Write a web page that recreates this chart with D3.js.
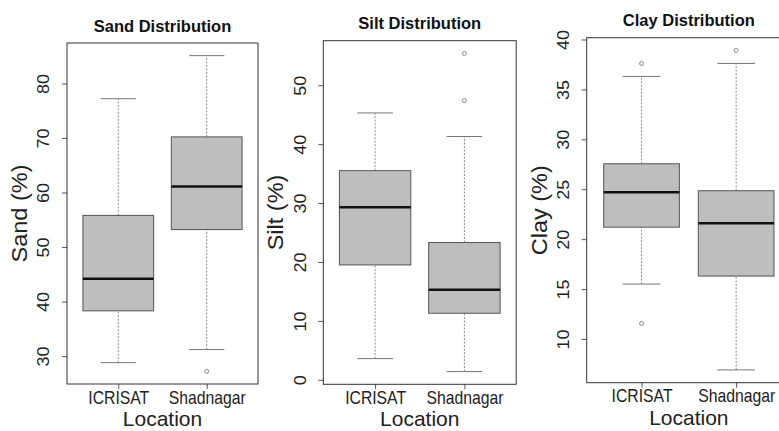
<!DOCTYPE html>
<html>
<head>
<script src="https://d3js.org/d3.v7.min.js"></script>
<style>
  body { margin: 0; background: #fff; }
  text { font-family: "Liberation Sans", Arial, sans-serif; }
</style>
</head>
<body>
<script>
	var width = 779;
	var height = 431;

	// Groups on the x axis
	var categories = ["ICRISAT", "Shadnagar"];

	// five-number summaries: [lower whisker, Q1, median, Q3, upper whisker]
	var sandStats = [[28.8, 38.3, 44.2, 55.8, 77.2], [31.2, 53.2, 61.1, 70.2, 85.1]];
	var sandOutliers = [[], [27.2]];
	var sandTicks = [30, 40, 50, 60, 70, 80];

	var siltStats = [[3.6, 19.5, 29.3, 35.5, 45.3], [1.4, 11.3, 15.3, 23.3, 41.3]];
	var siltOutliers = [[], [47.4, 55.4]];
	var siltTicks = [0, 10, 20, 30, 40, 50];

	var clayStats = [[15.5, 21.2, 24.7, 27.55, 36.3], [6.9, 16.3, 21.6, 24.85, 37.6]];
	var clayOutliers = [[11.55, 37.6], [38.9]];
	var clayTicks = [10, 15, 20, 25, 30, 35, 40];

	var panels = [
		{title: "Sand Distribution", ylab: "Sand (%)", stats: sandStats, outliers: sandOutliers, ticks: sandTicks,
		 left: 67, right: 258, top: 43, bottom: 384},
		{title: "Silt Distribution", ylab: "Silt (%)", stats: siltStats, outliers: siltOutliers, ticks: siltTicks,
		 left: 323.3, right: 516.2, top: 40.7, bottom: 384.3},
		{title: "Clay Distribution", ylab: "Clay (%)", stats: clayStats, outliers: clayOutliers, ticks: clayTicks,
		 left: 586.7, right: 791, top: 37.7, bottom: 382.7}
	];

	// the reference text is a little condensed sideways
	var squeeze = "scale(0.9,1)";

	var svg = d3.select("body")
		.append("svg")
		.attr("width", width)
		.attr("height", height)
		.style("background", "#fff");

	panels.forEach(function(p) {
		// R style limits: data range plus 4% each side
		var all = p.stats.flat().concat(p.outliers.flat());
		var lo = d3.min(all), hi = d3.max(all), pad = (hi - lo) * 0.04;

		var y = d3.scaleLinear().domain([lo - pad, hi + pad]).range([p.bottom, p.top]);
		var x = d3.scaleLinear().domain([0.42, 2.58]).range([p.left, p.right]);
		var boxW = x(1.4) - x(1);   // half of the 0.8 box width
		var capW = boxW / 2;

		var g = svg.append("g");

		var box = g.selectAll(".box")
			.data(p.stats)
			.join("g")
			.attr("class", "box");

		// whiskers
		box.append("line")
			.attr("x1", (d, i) => x(i + 1)).attr("x2", (d, i) => x(i + 1))
			.attr("y1", d => y(d[0])).attr("y2", d => y(d[1]))
			.attr("stroke", "#8a8a8a").attr("stroke-dasharray", "2,1.5");
		box.append("line")
			.attr("x1", (d, i) => x(i + 1)).attr("x2", (d, i) => x(i + 1))
			.attr("y1", d => y(d[3])).attr("y2", d => y(d[4]))
			.attr("stroke", "#8a8a8a").attr("stroke-dasharray", "2,1.5");

		// caps
		box.append("line")
			.attr("x1", (d, i) => x(i + 1) - capW).attr("x2", (d, i) => x(i + 1) + capW)
			.attr("y1", d => y(d[0])).attr("y2", d => y(d[0]))
			.attr("stroke", "#777");
		box.append("line")
			.attr("x1", (d, i) => x(i + 1) - capW).attr("x2", (d, i) => x(i + 1) + capW)
			.attr("y1", d => y(d[4])).attr("y2", d => y(d[4]))
			.attr("stroke", "#777");

		// box
		box.append("rect")
			.attr("x", (d, i) => x(i + 1) - boxW)
			.attr("y", d => y(d[3]))
			.attr("width", boxW * 2)
			.attr("height", d => y(d[1]) - y(d[3]))
			.attr("fill", "#bebebe")
			.attr("stroke", "#555");

		// median
		box.append("line")
			.attr("x1", (d, i) => x(i + 1) - boxW).attr("x2", (d, i) => x(i + 1) + boxW)
			.attr("y1", d => y(d[2])).attr("y2", d => y(d[2]))
			.attr("stroke", "#111").attr("stroke-width", 2.5);

		// outliers
		p.outliers.forEach(function(list, i) {
			g.selectAll(null)
				.data(list)
				.join("circle")
				.attr("cx", x(i + 1))
				.attr("cy", d => y(d))
				.attr("r", 2)
				.attr("fill", "none")
				.attr("stroke", "#888");
		});

		// y axis
		var yAxis = g.append("g")
			.attr("transform", "translate(" + p.left + ",0)")
			.call(d3.axisLeft(y).tickValues(p.ticks).tickSize(5));
		yAxis.select(".domain").remove();
		yAxis.selectAll("line").attr("stroke", "#555");
		yAxis.selectAll("text")
			.attr("x", null).attr("dy", null)
			.attr("text-anchor", "middle")
			.attr("transform", "translate(-17.7,0) " + squeeze + " rotate(-90)")
			.style("font-size", "18px")
			.style("font-family", "Liberation Sans, Arial, sans-serif")
			.attr("fill", "#222");

		// x axis
		var xAxis = g.append("g")
			.attr("transform", "translate(0," + p.bottom + ")")
			.call(d3.axisBottom(x).tickValues([1, 2]).tickFormat(i => categories[i - 1]).tickSize(5));
		xAxis.select(".domain").remove();
		xAxis.selectAll("line").attr("stroke", "#555");
		xAxis.selectAll("text")
			.attr("y", null).attr("dy", null)
			.attr("transform", "translate(0,19.5) " + squeeze)
			.style("font-size", "17.5px")
			.style("font-family", "Liberation Sans, Arial, sans-serif")
			.attr("fill", "#222");

		// plot frame
		g.append("rect")
			.attr("x", p.left).attr("y", p.top)
			.attr("width", p.right - p.left).attr("height", p.bottom - p.top)
			.attr("fill", "none").attr("stroke", "#333");

		// title
		g.append("text")
			.attr("x", (p.left + p.right) / 2)
			.attr("y", p.top - 11.5)
			.attr("text-anchor", "middle")
			.style("font-size", "16.5px")
			.style("font-weight", "bold")
			.attr("fill", "#111")
			.text(p.title);

		// axis titles
		g.append("text")
			.attr("x", (p.left + p.right) / 2)
			.attr("y", Math.min(p.bottom + 42, 426))
			.attr("text-anchor", "middle")
			.style("font-size", "21px")
			.attr("fill", "#222")
			.text("Location");

		g.append("text")
			.attr("transform", "translate(" + (p.left - 40) + "," + (p.top + p.bottom) / 2 + ") " + squeeze + " rotate(-90)")
			.attr("text-anchor", "middle")
			.style("font-size", "23.5px")
			.attr("fill", "#222")
			.text(p.ylab);
	});
</script>
</body>
</html>
